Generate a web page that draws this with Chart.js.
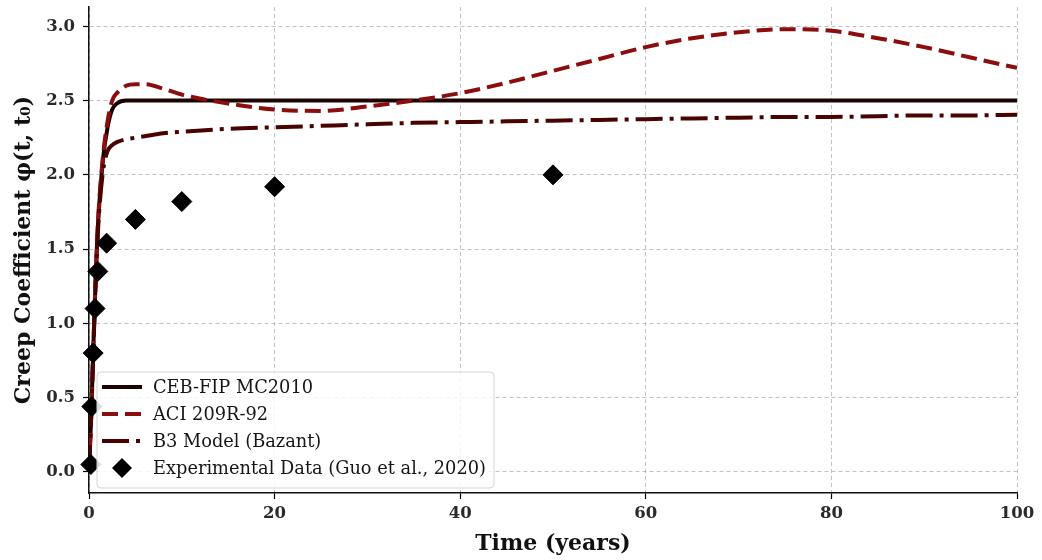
<!DOCTYPE html>
<html><head><meta charset="utf-8">
<style>html,body{margin:0;padding:0;background:#fff;} #wrap{width:1042px;height:560px;position:relative}</style>
<script src="https://cdn.jsdelivr.net/npm/chart.js@4/dist/chart.umd.min.js"></script>
</head><body><div id="wrap"><canvas id="c" width="1042" height="560"></canvas></div>
<script>
// ---- data ----
const curveTimes = [0, 0.25, 0.5, 0.75, 1, 1.5, 2, 2.5, 3, 4, 5, 6, 8, 10, 15, 20, 25, 30, 35, 40, 45, 50, 55, 60, 65, 70, 75, 80, 85, 90, 95, 100];
const cebValues  = [0, 0.40, 0.90, 1.35, 1.70, 2.10, 2.32, 2.44, 2.48, 2.50, 2.50, 2.50, 2.50, 2.50, 2.50, 2.50, 2.50, 2.50, 2.50, 2.50, 2.50, 2.50, 2.50, 2.50, 2.50, 2.50, 2.50, 2.50, 2.50, 2.50, 2.50, 2.50];
const aciValues  = [0, 0.40, 0.90, 1.36, 1.72, 2.12, 2.36, 2.50, 2.55, 2.60, 2.61, 2.61, 2.58, 2.54, 2.48, 2.44, 2.43, 2.46, 2.50, 2.55, 2.62, 2.70, 2.78, 2.86, 2.92, 2.96, 2.98, 2.97, 2.92, 2.86, 2.79, 2.72];
const b3Values   = [0, 0.40, 0.88, 1.32, 1.66, 2.02, 2.16, 2.20, 2.22, 2.24, 2.25, 2.26, 2.28, 2.29, 2.31, 2.32, 2.33, 2.34, 2.35, 2.355, 2.36, 2.365, 2.37, 2.375, 2.38, 2.385, 2.39, 2.39, 2.395, 2.40, 2.40, 2.405];
const expTimes   = [0.2, 0.3, 0.45, 0.65, 0.95, 1.9, 5, 10, 20, 50];
const expValues  = [0.05, 0.44, 0.80, 1.10, 1.35, 1.54, 1.70, 1.82, 1.92, 2.00];
const xTicks = [0, 20, 40, 60, 80, 100];
const yTicks = [0, 0.5, 1.0, 1.5, 2.0, 2.5, 3.0];
const seriesNames = ['CEB-FIP MC2010', 'ACI 209R-92', 'B3 Model (Bazant)', 'Experimental Data (Guo et al., 2020)'];
const xTitle = 'Time (years)';
const yTitle = 'Creep Coefficient \u03C6(t, t\u2080)';

const toPts = (xs, ys) => xs.map((x, i) => ({x: x, y: ys[i]}));
const SERIF = '"DejaVu Serif", "Liberation Serif", serif';
const cCEB = '#1c0404', cACI = '#8b0d0d', cB3 = '#4a0303';
const dashACI = [16, 7], dashB3 = [27, 7, 4, 7];

const legendPlugin = {
  id: 'insideLegend',
  afterDraw(chart) {
    const ctx = chart.ctx;
    ctx.save();
    ctx.font = '17.8px ' + SERIF;
    let tw = 0;
    seriesNames.forEach(n => { tw = Math.max(tw, ctx.measureText(n).width); });
    const bx = 97, by = 372, textX = 153;
    const bw = textX - bx + tw + 8, bh = 116;
    ctx.beginPath();
    if (ctx.roundRect) ctx.roundRect(bx, by, bw, bh, 4); else ctx.rect(bx, by, bw, bh);
    ctx.fillStyle = 'rgba(255,255,255,0.85)';
    ctx.fill();
    ctx.strokeStyle = '#d4d4d4';
    ctx.lineWidth = 1;
    ctx.stroke();
    const rows = [387, 414, 441, 468];
    const styles = [[cCEB, []], [cACI, dashACI], [cB3, dashB3]];
    styles.forEach((s, i) => {
      ctx.beginPath();
      ctx.strokeStyle = s[0];
      ctx.lineWidth = 4;
      ctx.setLineDash(s[1]);
      ctx.moveTo(102, rows[i]);
      ctx.lineTo(142, rows[i]);
      ctx.stroke();
    });
    ctx.setLineDash([]);
    const dx = 122, dy = rows[3], r = 10;
    ctx.beginPath();
    ctx.moveTo(dx - r, dy); ctx.lineTo(dx, dy - r); ctx.lineTo(dx + r, dy); ctx.lineTo(dx, dy + r); ctx.closePath();
    ctx.fillStyle = '#000';
    ctx.fill();
    ctx.fillStyle = '#151515';
    ctx.textBaseline = 'middle';
    ctx.textAlign = 'left';
    seriesNames.forEach((n, i) => ctx.fillText(n, textX, rows[i] + 1));
    ctx.restore();
  }
};

const gridColor = 'rgba(175,175,175,0.75)';
new Chart(document.getElementById('c'), {
  type: 'line',
  data: {
    datasets: [
      { label: seriesNames[3], data: toPts(expTimes, expValues), showLine: false, pointStyle: 'rectRot',
        pointRadius: 10, pointBackgroundColor: '#000', pointBorderColor: '#000', pointBorderWidth: 1, order: 0, clip: false },
      { label: seriesNames[2], data: toPts(curveTimes, b3Values), borderColor: cB3, borderWidth: 4,
        borderDash: dashB3, pointRadius: 0, cubicInterpolationMode: 'monotone', fill: false, order: 1 },
      { label: seriesNames[1], data: toPts(curveTimes, aciValues), borderColor: cACI, borderWidth: 4,
        borderDash: dashACI, pointRadius: 0, cubicInterpolationMode: 'monotone', fill: false, order: 2 },
      { label: seriesNames[0], data: toPts(curveTimes, cebValues), borderColor: cCEB, borderWidth: 4,
        pointRadius: 0, cubicInterpolationMode: 'monotone', fill: false, order: 3 }
    ]
  },
  options: {
    responsive: false, animation: false, devicePixelRatio: 1,
    layout: { autoPadding: false, padding: { left: 0, right: 25, top: 7, bottom: 0 } },
    plugins: { legend: { display: false }, tooltip: { enabled: false } },
    scales: {
      x: {
        type: 'linear', min: 0, max: 100,
        afterBuildTicks: s => { s.ticks = xTicks.map(v => ({ value: v })); },
        afterFit: s => { s.height = 67; s.paddingLeft = 0; s.paddingRight = 0; s.paddingTop = 0; s.paddingBottom = 0; },
        grid: { color: gridColor, lineWidth: 1, tickColor: '#000', tickLength: 6, tickWidth: 1.2, tickBorderDash: [] },
        border: { display: true, color: '#111', width: 1.5, dash: [4, 3] },
        ticks: { font: { family: SERIF, size: 16.5, weight: 'bold' }, color: '#2a2a2a', padding: 5, maxRotation: 0,
                 callback: v => String(v) },
        title: { display: true, text: xTitle, font: { family: SERIF, size: 22, weight: 'bold' }, color: '#111',
                 padding: { top: 0, bottom: 3 } }
      },
      y: {
        type: 'linear', min: -0.142, max: 3.13,
        afterBuildTicks: s => { s.ticks = yTicks.map(v => ({ value: v })); },
        afterFit: s => { s.width = 89; s.paddingLeft = 0; s.paddingRight = 0; s.paddingTop = 0; s.paddingBottom = 0; },
        grid: { color: gridColor, lineWidth: 1, tickColor: '#000', tickLength: 6, tickWidth: 1.2, tickBorderDash: [] },
        border: { display: true, color: '#111', width: 1.5, dash: [4, 3] },
        ticks: { font: { family: SERIF, size: 16.5, weight: 'bold' }, color: '#2a2a2a', padding: 8,
                 callback: v => Number(v).toFixed(1) },
        title: { display: true, text: yTitle, font: { family: SERIF, size: 22, weight: 'bold' }, color: '#111',
                 padding: { top: 11, bottom: 0 } }
      }
    }
  },
  plugins: [legendPlugin]
});
</script>
</body></html>
